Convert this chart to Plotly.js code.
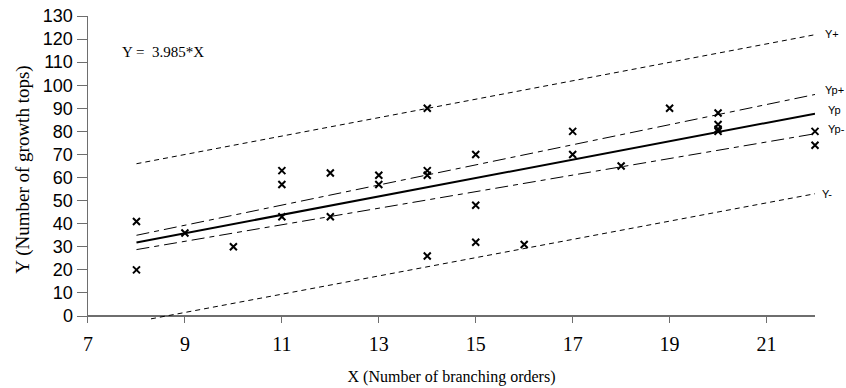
<!DOCTYPE html>
<html>
<head>
<meta charset="utf-8">
<script src="https://cdn.plot.ly/plotly-3.0.1.min.js"></script>
<style>html,body{margin:0;padding:0;background:#fff;}#chart{width:846px;height:388px;}</style>
</head>
<body>
<div id="chart"></div>
<script>
// Observed points
var obsX = [8, 8, 9, 10, 11, 11, 11, 12, 12, 13, 13, 14, 14, 14, 14, 15, 15, 15, 16, 17, 17, 18, 19, 20, 20, 20, 20, 22, 22];
var obsY = [41, 20, 36, 30, 63, 57, 43, 62, 43, 61, 57, 90, 63, 61, 26, 70, 48, 32, 31, 80, 70, 65, 90, 88, 83, 81, 80, 80, 74];

// Regression line and bands (end values)
var bandX = [8, 22];
var ypVals = [31.9, 87.7];
var ypPlusVals = [35.0, 96.0];
var ypMinusVals = [28.8, 79.0];
var yPlusVals = [66.0, 121.9];
var yMinusX = [8.3, 22];
var yMinusVals = [-1.2, 53.0];

var xTickVals = [7, 9, 11, 13, 15, 17, 19, 21];
var yTickVals = [0, 10, 20, 30, 40, 50, 60, 70, 80, 90, 100, 110, 120, 130];
var equationText = 'Y =\u00A0 3.985*X';

var serif = 'Liberation Serif, Times New Roman, serif';
var sans = 'Liberation Sans, Arial, sans-serif';

var traces = [
  {x: bandX, y: yPlusVals, mode: 'lines', line: {color: '#000', width: 1, dash: '5px,4px'}, hoverinfo: 'skip'},
  {x: yMinusX, y: yMinusVals, mode: 'lines', line: {color: '#000', width: 1, dash: '5px,4px'}, hoverinfo: 'skip'},
  {x: bandX, y: ypPlusVals, mode: 'lines', line: {color: '#000', width: 1, dash: '13px,5px,5px,5px'}, hoverinfo: 'skip'},
  {x: bandX, y: ypMinusVals, mode: 'lines', line: {color: '#000', width: 1, dash: '13px,5px,5px,5px'}, hoverinfo: 'skip'},
  {x: bandX, y: ypVals, mode: 'lines', line: {color: '#000', width: 2}, hoverinfo: 'skip'},
  {x: obsX, y: obsY, mode: 'markers', cliponaxis: false,
   marker: {symbol: 'x-thin-open', size: 7, color: '#000', line: {color: '#000', width: 2}}}
];

function endLabel(txt, xArr, yArr, dx, dy) {
  return {x: xArr[xArr.length - 1], y: yArr[yArr.length - 1], xref: 'x', yref: 'y', text: txt,
    showarrow: false, xanchor: 'left', yanchor: 'middle', xshift: dx, yshift: dy,
    font: {family: sans, size: 11, color: '#000'}};
}

var layout = {
  width: 846, height: 388,
  margin: {l: 88, r: 31, t: 16, b: 65, pad: 0},
  paper_bgcolor: '#fff', plot_bgcolor: '#fff',
  showlegend: false,
  xaxis: {
    range: [7, 22], tickvals: xTickVals, ticktext: xTickVals.map(String),
    showline: false, showgrid: false, zeroline: false,
    ticks: 'inside', ticklen: 7, tickwidth: 1, tickcolor: '#6e6e6e',
    tickfont: {family: serif, size: 20, color: '#000'},
    ticklabelstandoff: 7,
    title: {text: 'X (Number of branching orders)', font: {family: serif, size: 16, color: '#000'}, standoff: 16}
  },
  yaxis: {
    range: [-3, 130], tickvals: yTickVals, ticktext: yTickVals.map(String),
    showline: true, linecolor: '#6e6e6e', linewidth: 1.5,
    showgrid: false, zeroline: true, zerolinecolor: '#6e6e6e', zerolinewidth: 1.5,
    ticks: 'outside', ticklen: 10, tickwidth: 1, tickcolor: '#6e6e6e',
    tickfont: {family: sans, size: 18, color: '#000'},
    title: {text: 'Y (Number of growth tops)', font: {family: serif, size: 19, color: '#000'}, standoff: 8}
  },
  annotations: [
    {x: 7.67, y: 114.3, xref: 'x', yref: 'y', text: equationText, showarrow: false,
     xanchor: 'left', yanchor: 'middle', font: {family: serif, size: 15, color: '#000'}},
    endLabel('Y+', bandX, yPlusVals, 8, 1),
    endLabel('Yp+', bandX, ypPlusVals, 8, 4),
    endLabel('Yp', bandX, ypVals, 11, 4),
    endLabel('Yp-', bandX, ypMinusVals, 11, 5),
    endLabel('Y-', yMinusX, yMinusVals, 5, 0)
  ]
};

Plotly.newPlot('chart', traces, layout, {displayModeBar: false, staticPlot: true});
</script>
</body>
</html>
